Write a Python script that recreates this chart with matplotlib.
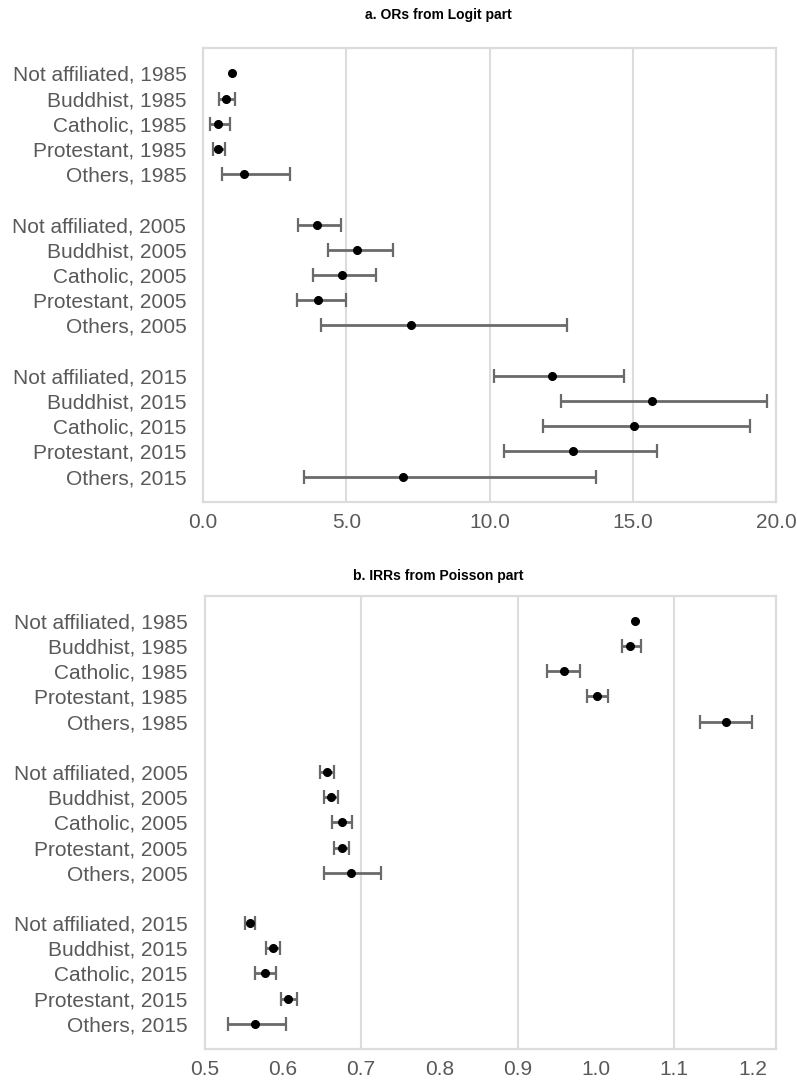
import matplotlib
matplotlib.use("Agg")
import matplotlib.pyplot as plt
from matplotlib.ticker import FixedLocator, FormatStrFormatter
import numpy as np

labels = [
    "Not affiliated, 1985", "Buddhist, 1985", "Catholic, 1985", "Protestant, 1985", "Others, 1985",
    "Not affiliated, 2005", "Buddhist, 2005", "Catholic, 2005", "Protestant, 2005", "Others, 2005",
    "Not affiliated, 2015", "Buddhist, 2015", "Catholic, 2015", "Protestant, 2015", "Others, 2015",
]
rows = [0, 1, 2, 3, 4, 6, 7, 8, 9, 10, 12, 13, 14, 15, 16]

# Panel a: odds ratios (Logit part)
or_est = [1.0, 0.79, 0.51, 0.51, 1.42, 3.97, 5.39, 4.84, 4.03, 7.25, 12.18, 15.66, 15.06, 12.93, 6.98]
or_lo = [1.0, 0.56, 0.26, 0.34, 0.67, 3.31, 4.37, 3.85, 3.28, 4.13, 10.16, 12.50, 11.88, 10.52, 3.53]
or_hi = [1.0, 1.11, 0.95, 0.77, 3.04, 4.83, 6.63, 6.03, 4.98, 12.70, 14.68, 19.70, 19.10, 15.86, 13.73]

# Panel b: incidence rate ratios (Poisson part)
irr_est = [1.05, 1.044, 0.959, 1.001, 1.166, 0.656, 0.661, 0.675, 0.675, 0.687, 0.558, 0.588, 0.577, 0.607, 0.565]
irr_lo = [1.05, 1.033, 0.937, 0.988, 1.133, 0.648, 0.653, 0.663, 0.665, 0.653, 0.552, 0.578, 0.565, 0.598, 0.530]
irr_hi = [1.05, 1.057, 0.980, 1.015, 1.199, 0.665, 0.671, 0.688, 0.685, 0.726, 0.565, 0.597, 0.591, 0.618, 0.604]

or_ticks = [0, 5, 10, 15, 20]
or_grid = [5, 10, 15]
irr_ticks = [0.5, 0.6, 0.7, 0.8, 0.9, 1.0, 1.1, 1.2]
irr_grid = [0.7, 0.9, 1.1]

plt.rcParams['font.family'] = ['Liberation Sans', 'DejaVu Sans']

fig = plt.figure(figsize=(7.97, 10.83), dpi=100)
ax1 = fig.add_axes([0.2547, 0.5367, 0.719, 0.4187])
ax2 = fig.add_axes([0.2566, 0.0314, 0.7171, 0.4186])

spine_c = "#dcdcdc"
grid_c = "#dcdcdc"
text_c = "#595959"

def panel(ax, est, lo, hi, xlim, ticks, grid):
    est = np.array(est); lo = np.array(lo); hi = np.array(hi)
    y = np.array(rows)
    has_ci = hi > lo
    xerr = np.vstack([est[has_ci] - lo[has_ci], hi[has_ci] - est[has_ci]])
    ax.errorbar(est[has_ci], y[has_ci], xerr=xerr, fmt='none',
                ecolor='#6a6a6a', elinewidth=2, capsize=5, capthick=1.6, zorder=3)
    ax.plot(est, y, 'o', color='black', markersize=5.5, zorder=4)
    for g in grid:
        ax.axvline(g, color=grid_c, linewidth=1.5, zorder=0)
    ax.set_xlim(*xlim)
    ax.set_ylim(17, -1)
    ax.set_yticks(rows)
    ax.set_yticklabels(labels)
    ax.xaxis.set_major_locator(FixedLocator(ticks))
    ax.xaxis.set_major_formatter(FormatStrFormatter('%.1f'))
    ax.grid(False)
    ax.tick_params(axis='both', which='both', length=0, labelsize=15, colors=text_c)
    ax.tick_params(axis='y', pad=12)
    ax.tick_params(axis='x', pad=8)
    for s in ax.spines.values():
        s.set_color(spine_c)
        s.set_linewidth(1.6)

panel(ax1, or_est, or_lo, or_hi, (0, 20), or_ticks, or_grid)
panel(ax2, irr_est, irr_lo, irr_hi, (0.5, 1.23), irr_ticks, irr_grid)

fig.text(0.55, 0.986, "a. ORs from Logit part", ha='center', va='center',
         fontsize=10, fontweight='bold', color='black')
fig.text(0.55, 0.468, "b. IRRs from Poisson part", ha='center', va='center',
         fontsize=10, fontweight='bold', color='black')

fig.savefig("out.png", dpi=100, facecolor='white')
